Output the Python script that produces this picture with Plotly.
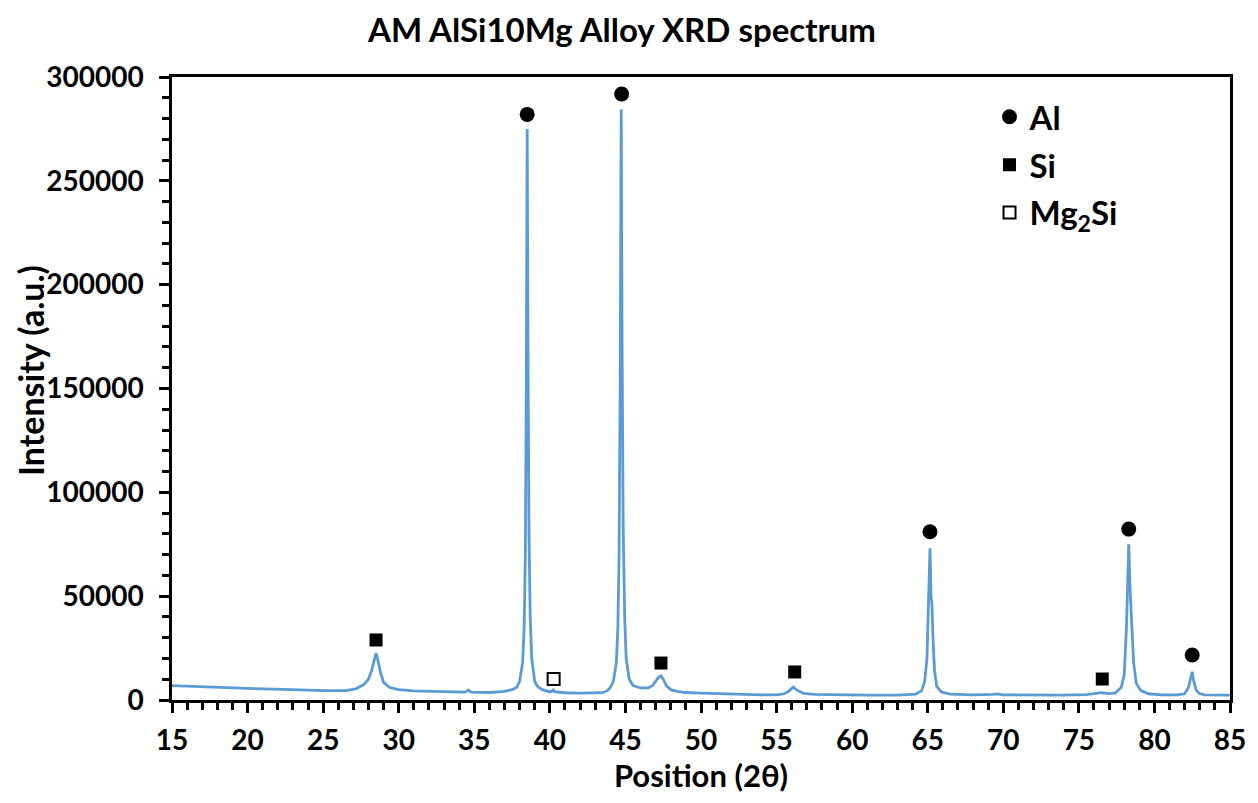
import plotly.graph_objects as go

# XRD spectrum (2-theta, intensity)
two_theta = [15, 17, 20, 23, 25, 26.5, 27.2, 27.7, 28.0, 28.2, 28.4, 28.5, 28.6, 28.8, 29.0, 29.4, 30, 31, 33,
             34.4, 34.6, 34.8, 36, 37.0, 37.5, 37.8, 38.0, 38.2, 38.3, 38.38, 38.44, 38.50, 38.56, 38.62, 38.7,
             38.8, 39.0, 39.2, 39.5, 39.8, 40.0, 40.15, 40.22, 40.3, 40.6, 41.0, 42, 43, 43.5, 43.8, 44.0, 44.2,
             44.4, 44.5, 44.58, 44.65, 44.72, 44.78, 44.85, 44.95, 45.05, 45.25, 45.5, 46.0, 46.5, 46.8, 47.0,
             47.2, 47.35, 47.5, 47.7, 48.0, 48.5, 49, 50, 52, 54, 55, 55.5, 55.8, 56.1, 56.4, 56.8, 57.5, 59, 61,
             63, 64.2, 64.6, 64.8, 64.95, 65.05, 65.15, 65.22, 65.28, 65.35, 65.45, 65.6, 65.9, 66.5, 68, 69.3,
             69.6, 70, 72, 74, 75.5, 76, 76.5, 77, 77.4, 77.8, 78.0, 78.15, 78.3, 78.38, 78.45, 78.52, 78.62,
             78.8, 79.1, 79.6, 80.5, 81.5, 82.0, 82.25, 82.4, 82.5, 82.58, 82.65, 82.75, 82.95, 83.3, 84, 85]
intensity = [6900, 6300, 5600, 5000, 4500, 4500, 5500, 7500, 10000, 14000, 20500, 22600, 20000, 13000, 8500, 6000,
             5000, 4400, 4000, 3800, 4800, 3800, 3600, 4200, 5000, 6000, 9000, 18000, 35000, 70000, 150000, 275000,
             160000, 80000, 40000, 20000, 9000, 6400, 5000, 4300, 3900, 4300, 5200, 4000, 3700, 3500, 3300, 3200,
             3500, 4500, 6000, 9000, 18000, 35000, 70000, 150000, 284500, 170000, 85000, 40000, 20000, 10000,
             7000, 5800, 5800, 7000, 9000, 11000, 11600, 10000, 7000, 5000, 4000, 3600, 3300, 2800, 2500, 2500,
             3000, 4200, 6200, 4500, 3200, 2700, 2400, 2300, 2300, 2800, 4500, 9000, 20000, 45000, 73000, 50000,
             46000, 30000, 14000, 6500, 3800, 2800, 2500, 2700, 2900, 2500, 2300, 2300, 2600, 3100, 3500, 3100,
             3300, 6000, 12000, 35000, 75000, 55000, 46000, 36000, 18000, 8000, 4500, 3000, 2500, 2500, 3000,
             6000, 11000, 13600, 9500, 8200, 5000, 3200, 2500, 2300, 2300]

# phase markers
al_x = [38.5, 44.75, 65.15, 78.3, 82.5]
al_y = [282000, 291800, 81000, 82300, 21700]
si_x = [28.5, 47.35, 56.2, 76.55]
si_y = [28900, 17800, 13500, 10100]
mg2si_x = [40.25]
mg2si_y = [10100]

x_ticks = list(range(15, 90, 5))
y_ticks = list(range(0, 300001, 50000))

FONT = "Lato"
fig = go.Figure()
fig.add_trace(go.Scatter(x=two_theta, y=intensity, mode="lines",
                         line=dict(color="#5B9BD5", width=2.8), showlegend=False, hoverinfo="x+y"))
fig.add_trace(go.Scatter(x=al_x, y=al_y, mode="markers", name="Al", legendgroup="a",
                         marker=dict(symbol="circle", size=15, color="black")))
fig.add_trace(go.Scatter(x=si_x, y=si_y, mode="markers", name="Si", legendgroup="b",
                         marker=dict(symbol="square", size=13, color="black")))
fig.add_trace(go.Scatter(x=mg2si_x, y=mg2si_y, mode="markers", name="Mg<sub>2</sub>Si", legendgroup="c",
                         marker=dict(symbol="square-open", size=12, color="black", line=dict(width=2))))

axis_common = dict(showline=True, linecolor="black", linewidth=2.5, mirror=True, ticks="outside",
                   tickcolor="black", tickwidth=2.5, ticklen=10, showgrid=False, zeroline=False,
                   tickfont=dict(family=FONT, size=28, color="black", weight="bold"))

W, H = 1250, 795
fig.update_layout(
    width=W, height=H,
    paper_bgcolor="white", plot_bgcolor="white",
    margin=dict(l=164, r=28, t=69, b=103),
    title=dict(text="AM AlSi10Mg Alloy XRD spectrum", x=614 / W, xanchor="center", y=1 - 22 / H,
               yanchor="middle", font=dict(family=FONT, size=33, color="black", weight="bold")),
    xaxis=dict(range=[15, 85], tickvals=x_ticks, ticklabelstandoff=4,
               minor=dict(dtick=1, ticks="outside", ticklen=7, tickwidth=2.5, tickcolor="black"),
               title=dict(text="Position (2θ)", standoff=7,
                          font=dict(family=FONT, size=31, color="black", weight="bold")),
               **axis_common),
    yaxis=dict(range=[0, 300000], tickvals=y_ticks, tickformat="d", ticklabelstandoff=10,
               minor=dict(dtick=10000, ticks="outside", ticklen=7, tickwidth=2.5, tickcolor="black"),
               **axis_common),
    annotations=[dict(text="Intensity (a.u.)", textangle=-90, xref="paper", yref="paper",
                      x=(22 - 164) / 1058, y=(692 - 363) / 623, xanchor="center", yanchor="middle",
                      showarrow=False, font=dict(family=FONT, size=34, color="black", weight="bold"))],
    legend=dict(x=0.7727, y=0.981, xanchor="left", yanchor="top", bgcolor="rgba(0,0,0,0)",
                font=dict(family=FONT, size=33, color="black", weight="bold"),
                tracegroupgap=2, itemwidth=30),
)

fig.write_html("out.html")
